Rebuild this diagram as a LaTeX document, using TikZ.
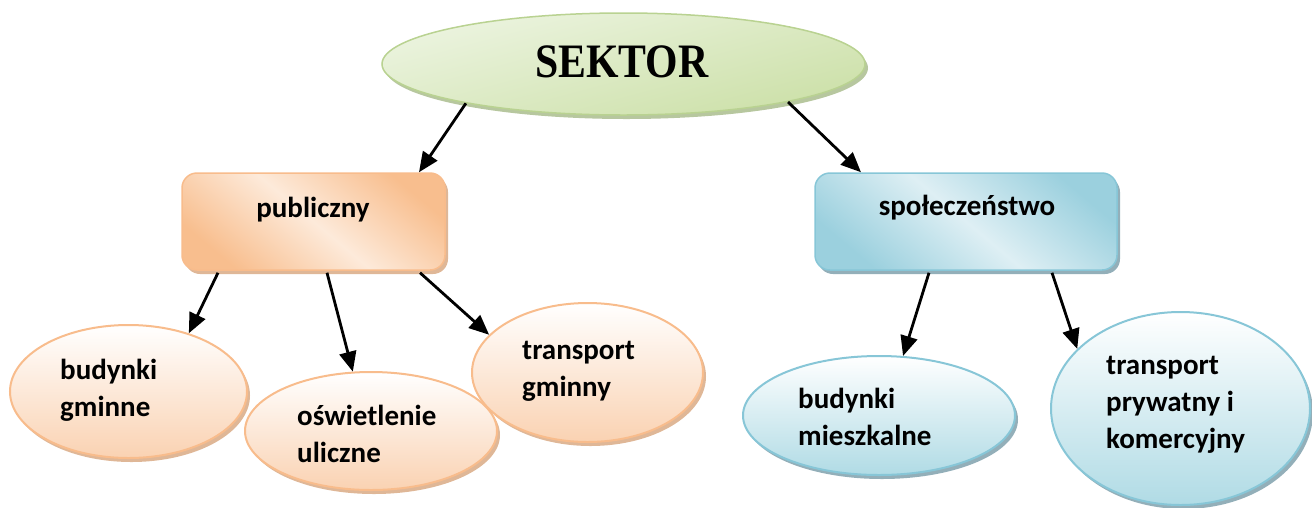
\documentclass[tikz,border=0pt]{standalone}
\usepackage{fontspec}
\setmainfont{Carlito}
\newfontfamily\serifbold{Liberation Serif}
\usetikzlibrary{shapes.geometric,shadows,arrows.meta}
\definecolor{grBorder}{RGB}{185,210,145}
\definecolor{grLight}{RGB}{236,244,224}
\definecolor{grDark}{RGB}{204,224,168}
\definecolor{grShadow}{RGB}{165,185,135}
\definecolor{orBorder}{RGB}{248,188,140}
\definecolor{orDark}{RGB}{248,190,142}
\definecolor{orLight}{RGB}{253,234,218}
\definecolor{orBottom}{RGB}{250,210,178}
\definecolor{orShadow}{RGB}{215,165,125}
\definecolor{blBorder}{RGB}{135,198,215}
\definecolor{blDark}{RGB}{155,208,222}
\definecolor{blLight}{RGB}{222,239,244}
\definecolor{blBottom}{RGB}{176,219,229}
\definecolor{blShadow}{RGB}{120,155,168}
\begin{document}
\begin{tikzpicture}[x=1pt,y=-1pt,
  topell/.style={ellipse, draw=grBorder, line width=1.5pt, inner sep=0pt,
    top color=grLight, bottom color=grDark, shading angle=15,
    drop shadow={shadow xshift=3pt, shadow yshift=-4pt, fill=grShadow, opacity=0.8}},
  orbox/.style={rectangle, rounded corners=15pt, draw=orBorder, line width=1.5pt, inner sep=0pt,
    top color=orDark, bottom color=orDark, middle color=orLight, shading angle=-40,
    drop shadow={shadow xshift=3pt, shadow yshift=-4pt, fill=orShadow, opacity=0.8}},
  blbox/.style={rectangle, rounded corners=15pt, draw=blBorder, line width=1.5pt, inner sep=0pt,
    top color=blDark, bottom color=blDark, middle color=blLight, shading angle=-40,
    drop shadow={shadow xshift=3pt, shadow yshift=-4pt, fill=blShadow, opacity=0.8}},
  orell/.style={ellipse, draw=orBorder, line width=2pt, inner sep=0pt,
    top color=white, bottom color=orBottom,
    drop shadow={shadow xshift=3pt, shadow yshift=-4pt, fill=orShadow, opacity=0.8}},
  blell/.style={ellipse, draw=blBorder, line width=2pt, inner sep=0pt,
    top color=white, bottom color=blBottom,
    drop shadow={shadow xshift=3pt, shadow yshift=-4pt, fill=blShadow, opacity=0.8}},
  lbl/.style={inner sep=0pt, anchor=base west, align=left,
    font=\fontsize{29}{37}\selectfont\bfseries},
  boxlbl/.style={inner sep=0pt, anchor=base,
    font=\fontsize{29}{37}\selectfont\bfseries},
  arr/.style={line width=2.8pt, -{Triangle[length=20pt,width=17pt]}}
]
\useasboundingbox (0,0) rectangle (1312,507);

% shapes
\node[topell, minimum width=483pt, minimum height=102pt] (sek) at (623.5,64) {};
\node[orbox, minimum width=263pt, minimum height=97pt] (pub) at (313.5,221.5) {};
\node[blbox, minimum width=302pt, minimum height=97pt] (spo) at (966,221.5) {};
\node[orell, minimum width=237pt, minimum height=133pt] (bg) at (128.5,391.5) {};
\node[orell, minimum width=252pt, minimum height=118pt] (osw) at (371,431) {};
\node[orell, minimum width=231pt, minimum height=139pt] (tg) at (587.5,372.5) {};
\node[blell, minimum width=272pt, minimum height=119pt] (bm) at (879,415.5) {};
\node[blell, minimum width=259pt, minimum height=193pt] (tp) at (1180.5,408.5) {};

% texts (base anchor = baseline of the last line)
\node[inner sep=0pt, anchor=base west, font=\serifbold\bfseries\fontsize{48}{56}\selectfont] (sekt) at (535,77) {\scalebox{0.87}[1]{SEKTOR}};
\node[boxlbl] (pubt) at (313,217) {publiczny};
\node[boxlbl] (spot) at (967,215) {społeczeństwo};
\node[lbl] (bgt) at (60,416) {budynki\\gminne};
\node[lbl] (oswt) at (297,462) {oświetlenie\\uliczne};
\node[lbl] (tgt) at (522,396) {transport\\gminny};
\node[lbl] (bmt) at (798,445) {budynki\\mieszkalne};
\node[lbl] (tpt) at (1106,448) {transport\\prywatny i\\komercyjny};

% connectors
\draw[arr] (sek.194.2) -- ([xshift=105.5pt]pub.north);
\draw[arr] (sek.347.7) -- ([xshift=-105pt]spo.north);
\draw[arr] ([xshift=-95.5pt,yshift=-2pt]pub.south) -- (bg.44.5);
\draw[arr] ([xshift=13.5pt,yshift=-2pt]pub.south) -- (osw.107.8);
\draw[arr] ([xshift=106.5pt,yshift=-2pt]pub.south) -- (tg.159.5);
\draw[arr] ([xshift=-37pt,yshift=-2pt]spo.south) -- (bm.68.4);
\draw[arr] ([xshift=86pt,yshift=-2pt]spo.south) -- (tp.150.7);
\end{tikzpicture}
\end{document}
